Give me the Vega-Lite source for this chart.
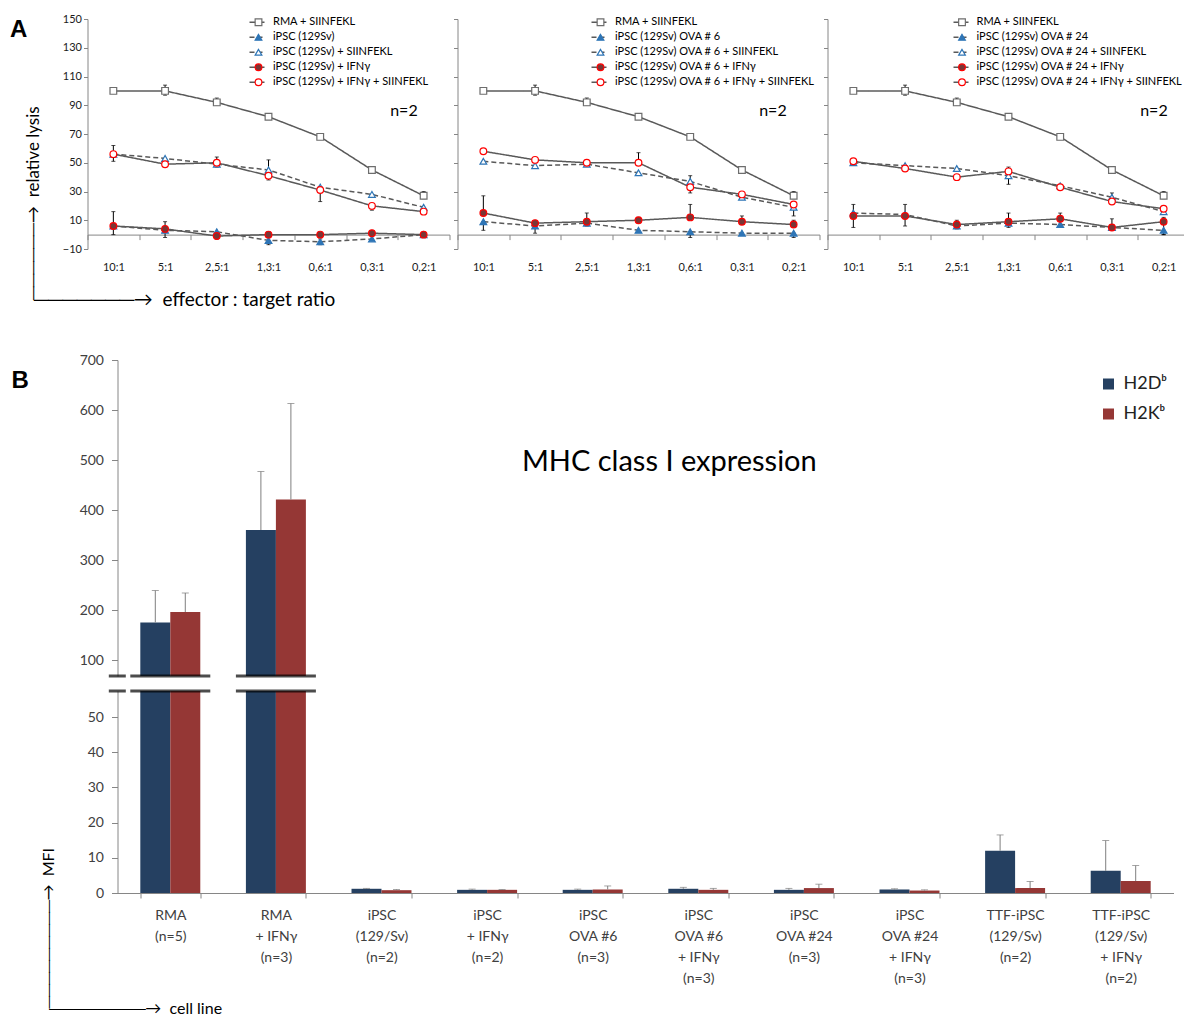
{
"$schema": "https://vega.github.io/schema/vega-lite/v6.json",
"background": "white",
"padding": {"left": 9.5, "top": 13, "right": 0, "bottom": 0},
"config": {"view": {"stroke": null}, "font": "Lato", "axis": {"grid": false, "labelFont": "Lato", "titleFont": "Lato", "titleFontWeight": "normal"}, "legend": {"labelFont": "Lato"}},
"datasets": {
"lysis": [
{"p":1,"r":"10:1","s":"RMA + SIINFEKL","v":100},{"p":1,"r":"5:1","s":"RMA + SIINFEKL","v":100,"lo":97,"hi":104},{"p":1,"r":"2,5:1","s":"RMA + SIINFEKL","v":92,"lo":90,"hi":95},{"p":1,"r":"1,3:1","s":"RMA + SIINFEKL","v":82,"lo":81,"hi":84},{"p":1,"r":"0,6:1","s":"RMA + SIINFEKL","v":68,"lo":67,"hi":70},{"p":1,"r":"0,3:1","s":"RMA + SIINFEKL","v":45},{"p":1,"r":"0,2:1","s":"RMA + SIINFEKL","v":27,"lo":25,"hi":30},
{"p":1,"r":"10:1","s":"iPSC (129Sv)","v":6},{"p":1,"r":"5:1","s":"iPSC (129Sv)","v":3},{"p":1,"r":"2,5:1","s":"iPSC (129Sv)","v":2},{"p":1,"r":"1,3:1","s":"iPSC (129Sv)","v":-4,"lo":-7,"hi":-1},{"p":1,"r":"0,6:1","s":"iPSC (129Sv)","v":-5,"lo":-7,"hi":-3},{"p":1,"r":"0,3:1","s":"iPSC (129Sv)","v":-3},{"p":1,"r":"0,2:1","s":"iPSC (129Sv)","v":0},
{"p":1,"r":"10:1","s":"iPSC (129Sv) + SIINFEKL","v":56},{"p":1,"r":"5:1","s":"iPSC (129Sv) + SIINFEKL","v":53},{"p":1,"r":"2,5:1","s":"iPSC (129Sv) + SIINFEKL","v":49},{"p":1,"r":"1,3:1","s":"iPSC (129Sv) + SIINFEKL","v":45,"lo":38,"hi":52},{"p":1,"r":"0,6:1","s":"iPSC (129Sv) + SIINFEKL","v":33},{"p":1,"r":"0,3:1","s":"iPSC (129Sv) + SIINFEKL","v":28},{"p":1,"r":"0,2:1","s":"iPSC (129Sv) + SIINFEKL","v":19},
{"p":1,"r":"10:1","s":"iPSC (129Sv) + IFNγ","v":6,"lo":0,"hi":16},{"p":1,"r":"5:1","s":"iPSC (129Sv) + IFNγ","v":4,"lo":-2,"hi":9},{"p":1,"r":"2,5:1","s":"iPSC (129Sv) + IFNγ","v":-1,"lo":-3,"hi":1},{"p":1,"r":"1,3:1","s":"iPSC (129Sv) + IFNγ","v":0,"lo":-2,"hi":2},{"p":1,"r":"0,6:1","s":"iPSC (129Sv) + IFNγ","v":0},{"p":1,"r":"0,3:1","s":"iPSC (129Sv) + IFNγ","v":1},{"p":1,"r":"0,2:1","s":"iPSC (129Sv) + IFNγ","v":0},
{"p":1,"r":"10:1","s":"iPSC (129Sv) + IFNγ + SIINFEKL","v":56,"lo":51,"hi":62},{"p":1,"r":"5:1","s":"iPSC (129Sv) + IFNγ + SIINFEKL","v":49},{"p":1,"r":"2,5:1","s":"iPSC (129Sv) + IFNγ + SIINFEKL","v":50,"lo":47,"hi":54},{"p":1,"r":"1,3:1","s":"iPSC (129Sv) + IFNγ + SIINFEKL","v":41},{"p":1,"r":"0,6:1","s":"iPSC (129Sv) + IFNγ + SIINFEKL","v":31,"lo":23,"hi":33},{"p":1,"r":"0,3:1","s":"iPSC (129Sv) + IFNγ + SIINFEKL","v":20,"lo":17,"hi":21},{"p":1,"r":"0,2:1","s":"iPSC (129Sv) + IFNγ + SIINFEKL","v":16},
{"p":2,"r":"10:1","s":"RMA + SIINFEKL","v":100},{"p":2,"r":"5:1","s":"RMA + SIINFEKL","v":100,"lo":97,"hi":104},{"p":2,"r":"2,5:1","s":"RMA + SIINFEKL","v":92,"lo":90,"hi":95},{"p":2,"r":"1,3:1","s":"RMA + SIINFEKL","v":82,"lo":81,"hi":84},{"p":2,"r":"0,6:1","s":"RMA + SIINFEKL","v":68,"lo":67,"hi":70},{"p":2,"r":"0,3:1","s":"RMA + SIINFEKL","v":45},{"p":2,"r":"0,2:1","s":"RMA + SIINFEKL","v":27,"lo":25,"hi":30},
{"p":2,"r":"10:1","s":"iPSC (129Sv) OVA # 6","v":9,"lo":3,"hi":9},{"p":2,"r":"5:1","s":"iPSC (129Sv) OVA # 6","v":6,"lo":1,"hi":6},{"p":2,"r":"2,5:1","s":"iPSC (129Sv) OVA # 6","v":8},{"p":2,"r":"1,3:1","s":"iPSC (129Sv) OVA # 6","v":3},{"p":2,"r":"0,6:1","s":"iPSC (129Sv) OVA # 6","v":2,"lo":-2,"hi":2},{"p":2,"r":"0,3:1","s":"iPSC (129Sv) OVA # 6","v":1},{"p":2,"r":"0,2:1","s":"iPSC (129Sv) OVA # 6","v":1,"lo":-2,"hi":1},
{"p":2,"r":"10:1","s":"iPSC (129Sv) OVA # 6 + SIINFEKL","v":51},{"p":2,"r":"5:1","s":"iPSC (129Sv) OVA # 6 + SIINFEKL","v":48},{"p":2,"r":"2,5:1","s":"iPSC (129Sv) OVA # 6 + SIINFEKL","v":49},{"p":2,"r":"1,3:1","s":"iPSC (129Sv) OVA # 6 + SIINFEKL","v":43},{"p":2,"r":"0,6:1","s":"iPSC (129Sv) OVA # 6 + SIINFEKL","v":37,"lo":37,"hi":41},{"p":2,"r":"0,3:1","s":"iPSC (129Sv) OVA # 6 + SIINFEKL","v":26},{"p":2,"r":"0,2:1","s":"iPSC (129Sv) OVA # 6 + SIINFEKL","v":19,"lo":13,"hi":23},
{"p":2,"r":"10:1","s":"iPSC (129Sv) OVA # 6 + IFNγ","v":15,"lo":15,"hi":27},{"p":2,"r":"5:1","s":"iPSC (129Sv) OVA # 6 + IFNγ","v":8},{"p":2,"r":"2,5:1","s":"iPSC (129Sv) OVA # 6 + IFNγ","v":9,"lo":6,"hi":15},{"p":2,"r":"1,3:1","s":"iPSC (129Sv) OVA # 6 + IFNγ","v":10,"lo":10,"hi":12},{"p":2,"r":"0,6:1","s":"iPSC (129Sv) OVA # 6 + IFNγ","v":12,"lo":12,"hi":21},{"p":2,"r":"0,3:1","s":"iPSC (129Sv) OVA # 6 + IFNγ","v":9,"lo":9,"hi":13},{"p":2,"r":"0,2:1","s":"iPSC (129Sv) OVA # 6 + IFNγ","v":7,"lo":5,"hi":10},
{"p":2,"r":"10:1","s":"iPSC (129Sv) OVA # 6 + IFNγ + SIINFEKL","v":58},{"p":2,"r":"5:1","s":"iPSC (129Sv) OVA # 6 + IFNγ + SIINFEKL","v":52},{"p":2,"r":"2,5:1","s":"iPSC (129Sv) OVA # 6 + IFNγ + SIINFEKL","v":50,"lo":49,"hi":52},{"p":2,"r":"1,3:1","s":"iPSC (129Sv) OVA # 6 + IFNγ + SIINFEKL","v":50,"lo":50,"hi":57},{"p":2,"r":"0,6:1","s":"iPSC (129Sv) OVA # 6 + IFNγ + SIINFEKL","v":33,"lo":29,"hi":33},{"p":2,"r":"0,3:1","s":"iPSC (129Sv) OVA # 6 + IFNγ + SIINFEKL","v":28},{"p":2,"r":"0,2:1","s":"iPSC (129Sv) OVA # 6 + IFNγ + SIINFEKL","v":21},
{"p":3,"r":"10:1","s":"RMA + SIINFEKL","v":100},{"p":3,"r":"5:1","s":"RMA + SIINFEKL","v":100,"lo":97,"hi":104},{"p":3,"r":"2,5:1","s":"RMA + SIINFEKL","v":92,"lo":90,"hi":95},{"p":3,"r":"1,3:1","s":"RMA + SIINFEKL","v":82,"lo":81,"hi":84},{"p":3,"r":"0,6:1","s":"RMA + SIINFEKL","v":68,"lo":67,"hi":70},{"p":3,"r":"0,3:1","s":"RMA + SIINFEKL","v":45},{"p":3,"r":"0,2:1","s":"RMA + SIINFEKL","v":27,"lo":25,"hi":30},
{"p":3,"r":"10:1","s":"iPSC (129Sv) OVA # 24","v":15},{"p":3,"r":"5:1","s":"iPSC (129Sv) OVA # 24","v":14},{"p":3,"r":"2,5:1","s":"iPSC (129Sv) OVA # 24","v":6},{"p":3,"r":"1,3:1","s":"iPSC (129Sv) OVA # 24","v":8},{"p":3,"r":"0,6:1","s":"iPSC (129Sv) OVA # 24","v":7},{"p":3,"r":"0,3:1","s":"iPSC (129Sv) OVA # 24","v":5},{"p":3,"r":"0,2:1","s":"iPSC (129Sv) OVA # 24","v":3,"lo":0,"hi":3},
{"p":3,"r":"10:1","s":"iPSC (129Sv) OVA # 24 + SIINFEKL","v":50},{"p":3,"r":"5:1","s":"iPSC (129Sv) OVA # 24 + SIINFEKL","v":48},{"p":3,"r":"2,5:1","s":"iPSC (129Sv) OVA # 24 + SIINFEKL","v":46},{"p":3,"r":"1,3:1","s":"iPSC (129Sv) OVA # 24 + SIINFEKL","v":41,"lo":35,"hi":47},{"p":3,"r":"0,6:1","s":"iPSC (129Sv) OVA # 24 + SIINFEKL","v":34},{"p":3,"r":"0,3:1","s":"iPSC (129Sv) OVA # 24 + SIINFEKL","v":26,"lo":26,"hi":29},{"p":3,"r":"0,2:1","s":"iPSC (129Sv) OVA # 24 + SIINFEKL","v":16},
{"p":3,"r":"10:1","s":"iPSC (129Sv) OVA # 24 + IFNγ","v":13,"lo":5,"hi":21},{"p":3,"r":"5:1","s":"iPSC (129Sv) OVA # 24 + IFNγ","v":13,"lo":6,"hi":21},{"p":3,"r":"2,5:1","s":"iPSC (129Sv) OVA # 24 + IFNγ","v":7,"lo":4,"hi":10},{"p":3,"r":"1,3:1","s":"iPSC (129Sv) OVA # 24 + IFNγ","v":9,"lo":5,"hi":15},{"p":3,"r":"0,6:1","s":"iPSC (129Sv) OVA # 24 + IFNγ","v":11,"lo":11,"hi":15},{"p":3,"r":"0,3:1","s":"iPSC (129Sv) OVA # 24 + IFNγ","v":5,"lo":5,"hi":11},{"p":3,"r":"0,2:1","s":"iPSC (129Sv) OVA # 24 + IFNγ","v":9,"lo":0,"hi":12},
{"p":3,"r":"10:1","s":"iPSC (129Sv) OVA # 24 + IFNγ + SIINFEKL","v":51},{"p":3,"r":"5:1","s":"iPSC (129Sv) OVA # 24 + IFNγ + SIINFEKL","v":46},{"p":3,"r":"2,5:1","s":"iPSC (129Sv) OVA # 24 + IFNγ + SIINFEKL","v":40},{"p":3,"r":"1,3:1","s":"iPSC (129Sv) OVA # 24 + IFNγ + SIINFEKL","v":44},{"p":3,"r":"0,6:1","s":"iPSC (129Sv) OVA # 24 + IFNγ + SIINFEKL","v":33},{"p":3,"r":"0,3:1","s":"iPSC (129Sv) OVA # 24 + IFNγ + SIINFEKL","v":23},{"p":3,"r":"0,2:1","s":"iPSC (129Sv) OVA # 24 + IFNγ + SIINFEKL","v":18}
],
"mhc": [
{"cell":"RMA|(n=5)","m":"H2Dᵇ","v":175,"hi":239},{"cell":"RMA|(n=5)","m":"H2Kᵇ","v":196,"hi":234},
{"cell":"RMA|+ IFNγ|(n=3)","m":"H2Dᵇ","v":360,"hi":477},{"cell":"RMA|+ IFNγ|(n=3)","m":"H2Kᵇ","v":421,"hi":613},
{"cell":"iPSC|(129/Sv)|(n=2)","m":"H2Dᵇ","v":1.2,"hi":1.3},{"cell":"iPSC|(129/Sv)|(n=2)","m":"H2Kᵇ","v":0.8,"hi":1.0},
{"cell":"iPSC|+ IFNγ|(n=2)","m":"H2Dᵇ","v":0.9,"hi":1.1},{"cell":"iPSC|+ IFNγ|(n=2)","m":"H2Kᵇ","v":0.9,"hi":1.0},
{"cell":"iPSC|OVA #6|(n=3)","m":"H2Dᵇ","v":0.9,"hi":1.1},{"cell":"iPSC|OVA #6|(n=3)","m":"H2Kᵇ","v":1.0,"hi":2.0},
{"cell":"iPSC|OVA #6|+ IFNγ|(n=3)","m":"H2Dᵇ","v":1.2,"hi":1.6},{"cell":"iPSC|OVA #6|+ IFNγ|(n=3)","m":"H2Kᵇ","v":0.9,"hi":1.3},
{"cell":"iPSC|OVA #24|(n=3)","m":"H2Dᵇ","v":0.9,"hi":1.3},{"cell":"iPSC|OVA #24|(n=3)","m":"H2Kᵇ","v":1.4,"hi":2.5},
{"cell":"iPSC|OVA #24|+ IFNγ|(n=3)","m":"H2Dᵇ","v":1.0,"hi":1.2},{"cell":"iPSC|OVA #24|+ IFNγ|(n=3)","m":"H2Kᵇ","v":0.7,"hi":0.9},
{"cell":"TTF-iPSC|(129/Sv)|(n=2)","m":"H2Dᵇ","v":12.0,"hi":16.5},{"cell":"TTF-iPSC|(129/Sv)|(n=2)","m":"H2Kᵇ","v":1.4,"hi":3.3},
{"cell":"TTF-iPSC|(129/Sv)|+ IFNγ|(n=2)","m":"H2Dᵇ","v":6.3,"hi":14.9},{"cell":"TTF-iPSC|(129/Sv)|+ IFNγ|(n=2)","m":"H2Kᵇ","v":3.4,"hi":7.8}
],
"breaks": [{"cell":"RMA|(n=5)"},{"cell":"RMA|+ IFNγ|(n=3)"}]
},
"columns": 1,
"align": "none",
"spacing": 44,
"concat": [
{
"hconcat": [
{
"width": 362, "height": 230,
"title": {"text": "A", "anchor": "start", "frame": "group", "font": "Liberation Sans", "fontSize": 24, "fontWeight": "bold", "color": "#000", "dx": -77.5, "dy": 29, "offset": 0},
"data": {"name": "lysis"},
"transform": [{"filter": "datum.p == 1"}],
"encoding": {
"x": {"field": "r", "type": "ordinal", "sort": ["10:1","5:1","2,5:1","1,3:1","0,6:1","0,3:1","0,2:1"], "scale": {"type": "band", "domain": ["10:1","5:1","2,5:1","1,3:1","0,6:1","0,3:1","0,2:1"], "paddingInner": 0, "paddingOuter": 0}, "title": "───────→\u00a0\u00a0effector : target ratio",
"axis": {"offset": -14.4, "domainColor": "#868686", "tickColor": "#868686", "tickBand": "extent", "tickSize": 5, "labelPadding": 22, "labelAngle": 0, "labelFontSize": 11, "labelColor": "#1a1a1a", "titleFontSize": 19, "titleColor": "#000", "titleX": -54, "titleY": 64.4, "titleAlign": "left", "titleBaseline": "middle"}},
"y": {"field": "v", "type": "quantitative", "title": "──────→\u00a0\u00a0relative lysis", "scale": {"domain": [-10, 150], "nice": false, "zero": false},
"axis": {"values": [-10,10,30,50,70,90,110,130,150], "domainColor": "#868686", "tickColor": "#868686", "tickSize": 4, "labelPadding": 2, "labelFontSize": 11, "labelColor": "#1a1a1a", "titleFontSize": 17, "titleColor": "#000", "titleX": -54, "titleY": 280, "titleAngle": -90, "titleAlign": "left", "titleBaseline": "middle"}}
},
"layer": [
{"mark": {"type": "line", "color": "#595959", "strokeWidth": 1.5},
"encoding": {"strokeDash": {"field": "s", "type": "nominal", "scale": {"domain": ["RMA + SIINFEKL","iPSC (129Sv)","iPSC (129Sv) + SIINFEKL","iPSC (129Sv) + IFNγ + SIINFEKL","iPSC (129Sv) + IFNγ"], "range": [[1,0],[5,3],[5,3],[1,0],[1,0]]},
"legend": {"orient": "none", "legendX": 161, "legendY": -4, "title": null, "symbolType": "stroke", "symbolSize": 225, "symbolStrokeColor": "#595959", "symbolStrokeWidth": 1.5, "clipHeight": 14.5, "rowPadding": 0, "padding": 0, "labelExpr": "''", "labelFontSize": 11, "labelOffset": 4}}}},
{"transform": [{"filter": "isValid(datum.hi)"}], "mark": {"type": "rule", "color": "#000", "strokeWidth": 1}, "encoding": {"y": {"field": "lo", "type": "quantitative", "title": "──────→\u00a0\u00a0relative lysis"}, "y2": {"field": "hi"}}},
{"transform": [{"filter": "isValid(datum.hi)"}], "mark": {"type": "tick", "color": "#000", "thickness": 1, "size": 4}, "encoding": {"y": {"field": "hi", "type": "quantitative", "title": "──────→\u00a0\u00a0relative lysis"}}},
{"transform": [{"filter": "isValid(datum.hi)"}], "mark": {"type": "tick", "color": "#000", "thickness": 1, "size": 4}, "encoding": {"y": {"field": "lo", "type": "quantitative", "title": "──────→\u00a0\u00a0relative lysis"}}},
{"mark": {"type": "point", "filled": true, "size": 45, "strokeWidth": 1.2, "opacity": 1},
"encoding": {
"shape": {"field": "s", "type": "nominal", "scale": {"domain": ["RMA + SIINFEKL","iPSC (129Sv)","iPSC (129Sv) + SIINFEKL","iPSC (129Sv) + IFNγ","iPSC (129Sv) + IFNγ + SIINFEKL"], "range": ["square","triangle-up","triangle-up","circle","circle"]},
"legend": {"orient": "none", "legendX": 165.5, "legendY": -4, "title": null, "symbolSize": 45, "symbolStrokeWidth": 1.2, "clipHeight": 14.5, "rowPadding": 0, "padding": 0, "labelColor": "#000", "labelFontSize": 11, "labelOffset": 9, "labelLimit": 400}},
"fill": {"field": "s", "type": "nominal", "scale": {"domain": ["RMA + SIINFEKL","iPSC (129Sv)","iPSC (129Sv) + SIINFEKL","iPSC (129Sv) + IFNγ","iPSC (129Sv) + IFNγ + SIINFEKL"], "range": ["#ffffff","#2e75b6","#ffffff","#7a3636","#ffffff"]}},
"stroke": {"field": "s", "type": "nominal", "scale": {"domain": ["RMA + SIINFEKL","iPSC (129Sv)","iPSC (129Sv) + SIINFEKL","iPSC (129Sv) + IFNγ","iPSC (129Sv) + IFNγ + SIINFEKL"], "range": ["#6d6d6d","#2e75b6","#2e75b6","#ff0000","#ff0000"]}}
}},
{"transform": [{"filter": "isValid(datum.hi) == false && datum.r == '0,3:1' && datum.s == 'RMA + SIINFEKL'"}], "mark": {"type": "text", "text": "n=2", "fontSize": 16, "dx": 32, "color": "#000"}, "encoding": {"y": {"datum": 86}}}
]
},
{
"width": 362, "height": 230,
"data": {"name": "lysis"},
"transform": [{"filter": "datum.p == 2"}],
"encoding": {
"x": {"field": "r", "type": "ordinal", "sort": ["10:1","5:1","2,5:1","1,3:1","0,6:1","0,3:1","0,2:1"], "scale": {"type": "band", "domain": ["10:1","5:1","2,5:1","1,3:1","0,6:1","0,3:1","0,2:1"], "paddingInner": 0, "paddingOuter": 0}, "title": null,
"axis": {"offset": -14.4, "domainColor": "#868686", "tickColor": "#868686", "tickBand": "extent", "tickSize": 5, "labelPadding": 22, "labelAngle": 0, "labelFontSize": 11, "labelColor": "#1a1a1a"}},
"y": {"field": "v", "type": "quantitative", "title": null, "scale": {"domain": [-10, 150], "nice": false, "zero": false},
"axis": {"values": [-10,10,30,50,70,90,110,130,150], "labels": false, "domainColor": "#868686", "tickColor": "#868686", "tickSize": 4}}
},
"layer": [
{"mark": {"type": "line", "color": "#595959", "strokeWidth": 1.5},
"encoding": {"strokeDash": {"field": "s", "type": "nominal", "scale": {"domain": ["RMA + SIINFEKL","iPSC (129Sv) OVA # 6","iPSC (129Sv) OVA # 6 + SIINFEKL","iPSC (129Sv) OVA # 6 + IFNγ + SIINFEKL","iPSC (129Sv) OVA # 6 + IFNγ"], "range": [[1,0],[5,3],[5,3],[1,0],[1,0]]},
"legend": {"orient": "none", "legendX": 133, "legendY": -4, "title": null, "symbolType": "stroke", "symbolSize": 225, "symbolStrokeColor": "#595959", "symbolStrokeWidth": 1.5, "clipHeight": 14.5, "rowPadding": 0, "padding": 0, "labelExpr": "''", "labelFontSize": 11, "labelOffset": 4}}}},
{"transform": [{"filter": "isValid(datum.hi)"}], "mark": {"type": "rule", "color": "#000", "strokeWidth": 1}, "encoding": {"y": {"field": "lo", "type": "quantitative", "title": null}, "y2": {"field": "hi"}}},
{"transform": [{"filter": "isValid(datum.hi)"}], "mark": {"type": "tick", "color": "#000", "thickness": 1, "size": 4}, "encoding": {"y": {"field": "hi", "type": "quantitative", "title": null}}},
{"transform": [{"filter": "isValid(datum.hi)"}], "mark": {"type": "tick", "color": "#000", "thickness": 1, "size": 4}, "encoding": {"y": {"field": "lo", "type": "quantitative", "title": null}}},
{"mark": {"type": "point", "filled": true, "size": 45, "strokeWidth": 1.2, "opacity": 1},
"encoding": {
"shape": {"field": "s", "type": "nominal", "scale": {"domain": ["RMA + SIINFEKL","iPSC (129Sv) OVA # 6","iPSC (129Sv) OVA # 6 + SIINFEKL","iPSC (129Sv) OVA # 6 + IFNγ","iPSC (129Sv) OVA # 6 + IFNγ + SIINFEKL"], "range": ["square","triangle-up","triangle-up","circle","circle"]},
"legend": {"orient": "none", "legendX": 137.5, "legendY": -4, "title": null, "symbolSize": 45, "symbolStrokeWidth": 1.2, "clipHeight": 14.5, "rowPadding": 0, "padding": 0, "labelColor": "#000", "labelFontSize": 11, "labelOffset": 9, "labelLimit": 400}},
"fill": {"field": "s", "type": "nominal", "scale": {"domain": ["RMA + SIINFEKL","iPSC (129Sv) OVA # 6","iPSC (129Sv) OVA # 6 + SIINFEKL","iPSC (129Sv) OVA # 6 + IFNγ","iPSC (129Sv) OVA # 6 + IFNγ + SIINFEKL"], "range": ["#ffffff","#2e75b6","#ffffff","#7a3636","#ffffff"]}},
"stroke": {"field": "s", "type": "nominal", "scale": {"domain": ["RMA + SIINFEKL","iPSC (129Sv) OVA # 6","iPSC (129Sv) OVA # 6 + SIINFEKL","iPSC (129Sv) OVA # 6 + IFNγ","iPSC (129Sv) OVA # 6 + IFNγ + SIINFEKL"], "range": ["#6d6d6d","#2e75b6","#2e75b6","#ff0000","#ff0000"]}}
}},
{"transform": [{"filter": "isValid(datum.hi) == false && datum.r == '0,3:1' && datum.s == 'RMA + SIINFEKL'"}], "mark": {"type": "text", "text": "n=2", "fontSize": 16, "dx": 31, "color": "#000"}, "encoding": {"y": {"datum": 86}}}
]
},
{
"width": 362, "height": 230,
"data": {"name": "lysis"},
"transform": [{"filter": "datum.p == 3"}],
"encoding": {
"x": {"field": "r", "type": "ordinal", "sort": ["10:1","5:1","2,5:1","1,3:1","0,6:1","0,3:1","0,2:1"], "scale": {"type": "band", "domain": ["10:1","5:1","2,5:1","1,3:1","0,6:1","0,3:1","0,2:1"], "paddingInner": 0, "paddingOuter": 0}, "title": null,
"axis": {"offset": -14.4, "domainColor": "#868686", "tickColor": "#868686", "tickBand": "extent", "tickSize": 5, "labelPadding": 22, "labelAngle": 0, "labelFontSize": 11, "labelColor": "#1a1a1a"}},
"y": {"field": "v", "type": "quantitative", "title": null, "scale": {"domain": [-10, 150], "nice": false, "zero": false},
"axis": {"values": [-10,10,30,50,70,90,110,130,150], "labels": false, "domainColor": "#868686", "tickColor": "#868686", "tickSize": 4}}
},
"layer": [
{"mark": {"type": "line", "color": "#595959", "strokeWidth": 1.5},
"encoding": {"strokeDash": {"field": "s", "type": "nominal", "scale": {"domain": ["RMA + SIINFEKL","iPSC (129Sv) OVA # 24","iPSC (129Sv) OVA # 24 + SIINFEKL","iPSC (129Sv) OVA # 24 + IFNγ + SIINFEKL","iPSC (129Sv) OVA # 24 + IFNγ"], "range": [[1,0],[5,3],[5,3],[1,0],[1,0]]},
"legend": {"orient": "none", "legendX": 125, "legendY": -4, "title": null, "symbolType": "stroke", "symbolSize": 225, "symbolStrokeColor": "#595959", "symbolStrokeWidth": 1.5, "clipHeight": 14.5, "rowPadding": 0, "padding": 0, "labelExpr": "''", "labelFontSize": 11, "labelOffset": 4}}}},
{"transform": [{"filter": "isValid(datum.hi)"}], "mark": {"type": "rule", "color": "#000", "strokeWidth": 1}, "encoding": {"y": {"field": "lo", "type": "quantitative", "title": null}, "y2": {"field": "hi"}}},
{"transform": [{"filter": "isValid(datum.hi)"}], "mark": {"type": "tick", "color": "#000", "thickness": 1, "size": 4}, "encoding": {"y": {"field": "hi", "type": "quantitative", "title": null}}},
{"transform": [{"filter": "isValid(datum.hi)"}], "mark": {"type": "tick", "color": "#000", "thickness": 1, "size": 4}, "encoding": {"y": {"field": "lo", "type": "quantitative", "title": null}}},
{"mark": {"type": "point", "filled": true, "size": 45, "strokeWidth": 1.2, "opacity": 1},
"encoding": {
"shape": {"field": "s", "type": "nominal", "scale": {"domain": ["RMA + SIINFEKL","iPSC (129Sv) OVA # 24","iPSC (129Sv) OVA # 24 + SIINFEKL","iPSC (129Sv) OVA # 24 + IFNγ","iPSC (129Sv) OVA # 24 + IFNγ + SIINFEKL"], "range": ["square","triangle-up","triangle-up","circle","circle"]},
"legend": {"orient": "none", "legendX": 129, "legendY": -4, "title": null, "symbolSize": 45, "symbolStrokeWidth": 1.2, "clipHeight": 14.5, "rowPadding": 0, "padding": 0, "labelColor": "#000", "labelFontSize": 11, "labelOffset": 9, "labelLimit": 400}},
"fill": {"field": "s", "type": "nominal", "scale": {"domain": ["RMA + SIINFEKL","iPSC (129Sv) OVA # 24","iPSC (129Sv) OVA # 24 + SIINFEKL","iPSC (129Sv) OVA # 24 + IFNγ","iPSC (129Sv) OVA # 24 + IFNγ + SIINFEKL"], "range": ["#ffffff","#2e75b6","#ffffff","#7a3636","#ffffff"]}},
"stroke": {"field": "s", "type": "nominal", "scale": {"domain": ["RMA + SIINFEKL","iPSC (129Sv) OVA # 24","iPSC (129Sv) OVA # 24 + SIINFEKL","iPSC (129Sv) OVA # 24 + IFNγ","iPSC (129Sv) OVA # 24 + IFNγ + SIINFEKL"], "range": ["#6d6d6d","#2e75b6","#2e75b6","#ff0000","#ff0000"]}}
}},
{"transform": [{"filter": "isValid(datum.hi) == false && datum.r == '0,3:1' && datum.s == 'RMA + SIINFEKL'"}], "mark": {"type": "text", "text": "n=2", "fontSize": 16, "dx": 42, "color": "#000"}, "encoding": {"y": {"datum": 86}}}
]
}
],
"spacing": 2,
"resolve": {"scale": {"shape": "independent", "fill": "independent", "stroke": "independent", "strokeDash": "independent", "x": "independent", "y": "independent"}, "legend": {"shape": "independent", "fill": "independent", "stroke": "independent", "strokeDash": "independent"}}
},
{
"vconcat": [
{
"width": 1086, "height": 316,
"title": {"text": "B", "anchor": "start", "frame": "group", "font": "Liberation Sans", "fontSize": 24, "fontWeight": "bold", "color": "#000", "dx": -76, "dy": 40, "offset": 0},
"layer": [
{"data": {"name": "mhc"}, "mark": {"type": "bar", "clip": true},
"encoding": {
"x": {"field": "cell", "type": "nominal", "sort": null, "scale": {"domain": ["RMA|(n=5)","RMA|+ IFNγ|(n=3)","iPSC|(129/Sv)|(n=2)","iPSC|+ IFNγ|(n=2)","iPSC|OVA #6|(n=3)","iPSC|OVA #6|+ IFNγ|(n=3)","iPSC|OVA #24|(n=3)","iPSC|OVA #24|+ IFNγ|(n=3)","TTF-iPSC|(129/Sv)|(n=2)","TTF-iPSC|(129/Sv)|+ IFNγ|(n=2)"], "range": [30, 1086], "paddingInner": 0.432, "paddingOuter": 0.216}, "axis": null},
"xOffset": {"field": "m", "type": "nominal", "sort": ["H2Dᵇ","H2Kᵇ"], "scale": {"paddingInner": 0, "paddingOuter": 0}},
"y": {"field": "v", "type": "quantitative", "title": null, "scale": {"domain": [68, 700], "nice": false, "zero": false},
"axis": {"offset": -30, "values": [100,200,300,400,500,600,700], "domainColor": "#868686", "tickColor": "#868686", "tickSize": 6, "labelPadding": 8, "labelFontSize": 14, "labelColor": "#404040"}},
"color": {"field": "m", "type": "nominal", "sort": ["H2Dᵇ","H2Kᵇ"], "scale": {"range": ["#254061","#953735"]},
"legend": {"orient": "none", "legendX": 1012, "legendY": 15, "title": null, "symbolType": "square", "symbolSize": 121, "symbolStrokeWidth": 0, "labelFontSize": 18, "labelColor": "#222", "rowPadding": 12, "labelOffset": 6, "padding": 0}}
}},
{"data": {"name": "mhc"}, "mark": {"type": "rule", "clip": true, "color": "#7f7f7f", "strokeWidth": 1},
"encoding": {"x": {"field": "cell", "type": "nominal", "sort": null}, "xOffset": {"field": "m", "type": "nominal", "sort": ["H2Dᵇ","H2Kᵇ"]}, "y": {"field": "v", "type": "quantitative", "title": null}, "y2": {"field": "hi"}}},
{"data": {"name": "mhc"}, "mark": {"type": "tick", "clip": true, "color": "#7f7f7f", "thickness": 1, "size": 7},
"encoding": {"x": {"field": "cell", "type": "nominal", "sort": null}, "xOffset": {"field": "m", "type": "nominal", "sort": ["H2Dᵇ","H2Kᵇ"]}, "y": {"field": "hi", "type": "quantitative", "title": null}}},
{"data": {"name": "breaks"}, "mark": {"type": "tick", "color": "#000", "thickness": 3, "size": 80},
"encoding": {"x": {"field": "cell", "type": "nominal", "sort": null}, "y": {"datum": 68}}},
{"data": {"values": [{"cell": "RMA|(n=5)"}]}, "mark": {"type": "tick", "color": "#000", "thickness": 3, "size": 17, "xOffset": -53},
"encoding": {"x": {"field": "cell", "type": "nominal", "sort": null}, "y": {"datum": 68}}},
{"data": {"values": [{"t": "MHC class I expression"}]}, "mark": {"type": "text", "fontSize": 29, "dx": -29, "color": "#000", "baseline": "middle"},
"encoding": {"x": {"datum": "iPSC|OVA #6|+ IFNγ|(n=3)"}, "y": {"datum": 497}, "text": {"field": "t"}}}
]
},
{
"width": 1086, "height": 202,
"layer": [
{"data": {"name": "mhc"}, "mark": {"type": "bar", "clip": true},
"encoding": {
"x": {"field": "cell", "type": "nominal", "sort": null, "title": "────────→\u00a0\u00a0cell line", "scale": {"domain": ["RMA|(n=5)","RMA|+ IFNγ|(n=3)","iPSC|(129/Sv)|(n=2)","iPSC|+ IFNγ|(n=2)","iPSC|OVA #6|(n=3)","iPSC|OVA #6|+ IFNγ|(n=3)","iPSC|OVA #24|(n=3)","iPSC|OVA #24|+ IFNγ|(n=3)","TTF-iPSC|(129/Sv)|(n=2)","TTF-iPSC|(129/Sv)|+ IFNγ|(n=2)"], "range": [30, 1086], "paddingInner": 0.432, "paddingOuter": 0.216},
"axis": {"labelExpr": "isValid(datum.value) ? split(datum.value, '|') : ''", "labelAngle": 0, "labelFontSize": 14, "labelLineHeight": 21, "labelColor": "#404040", "labelPadding": 10, "domainColor": "#868686", "tickColor": "#868686", "tickBand": "extent", "tickSize": 5, "titleFontSize": 16, "titleColor": "#000", "titleX": -38.7, "titleY": 115, "titleAlign": "left", "titleBaseline": "middle"}},
"xOffset": {"field": "m", "type": "nominal", "sort": ["H2Dᵇ","H2Kᵇ"], "scale": {"paddingInner": 0, "paddingOuter": 0}},
"y": {"field": "v", "type": "quantitative", "title": "─────────→\u00a0\u00a0MFI", "scale": {"domain": [0, 57.4], "nice": false, "zero": false},
"axis": {"offset": -30, "values": [0,10,20,30,40,50], "domainColor": "#868686", "tickColor": "#868686", "tickSize": 6, "labelPadding": 8, "labelFontSize": 14, "labelColor": "#404040", "titleFontSize": 16, "titleColor": "#000", "titleX": -68.7, "titleY": 317, "titleAngle": -90, "titleAlign": "left", "titleBaseline": "middle"}},
"color": {"field": "m", "type": "nominal", "sort": ["H2Dᵇ","H2Kᵇ"], "scale": {"range": ["#254061","#953735"]}, "legend": null}
}},
{"data": {"name": "mhc"}, "mark": {"type": "rule", "clip": true, "color": "#7f7f7f", "strokeWidth": 1},
"encoding": {"x": {"field": "cell", "type": "nominal", "sort": null, "title": "────────→\u00a0\u00a0cell line"}, "xOffset": {"field": "m", "type": "nominal", "sort": ["H2Dᵇ","H2Kᵇ"]}, "y": {"field": "v", "type": "quantitative", "title": "─────────→\u00a0\u00a0MFI"}, "y2": {"field": "hi"}}},
{"data": {"name": "mhc"}, "mark": {"type": "tick", "clip": true, "color": "#7f7f7f", "thickness": 1, "size": 7},
"encoding": {"x": {"field": "cell", "type": "nominal", "sort": null, "title": "────────→\u00a0\u00a0cell line"}, "xOffset": {"field": "m", "type": "nominal", "sort": ["H2Dᵇ","H2Kᵇ"]}, "y": {"field": "hi", "type": "quantitative", "title": "─────────→\u00a0\u00a0MFI"}}},
{"data": {"name": "breaks"}, "mark": {"type": "tick", "color": "#000", "thickness": 3, "size": 80},
"encoding": {"x": {"field": "cell", "type": "nominal", "sort": null, "title": "────────→\u00a0\u00a0cell line"}, "y": {"datum": 57.4}}},
{"data": {"values": [{"cell": "RMA|(n=5)"}]}, "mark": {"type": "tick", "color": "#000", "thickness": 3, "size": 17, "xOffset": -53},
"encoding": {"x": {"field": "cell", "type": "nominal", "sort": null, "title": "────────→\u00a0\u00a0cell line"}, "y": {"datum": 57.4}}}
]
}
],
"spacing": 11,
"resolve": {"scale": {"y": "independent", "color": "independent", "x": "independent", "xOffset": "independent"}}
}
]
}
